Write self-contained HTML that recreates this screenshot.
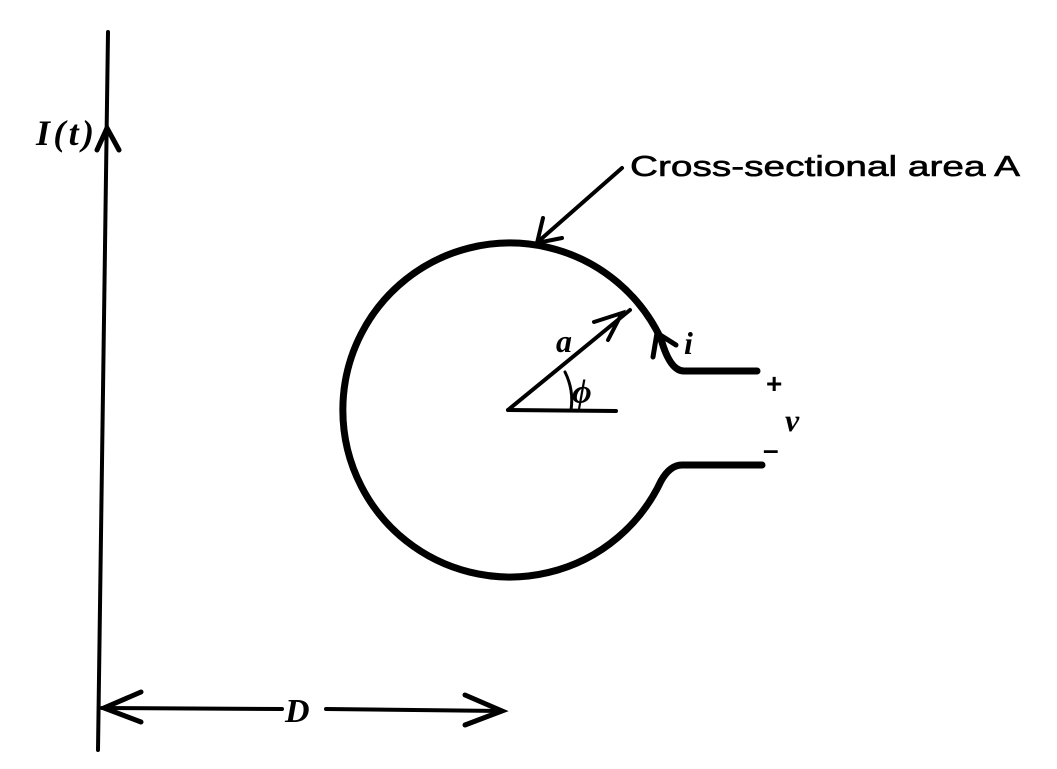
<!DOCTYPE html>
<html><head><style>body{margin:0;background:#fff}</style></head><body>
<svg width="1057" height="769" xmlns="http://www.w3.org/2000/svg" style="display:block">
<g stroke="#000" fill="none" stroke-linecap="round">
<line x1="108" y1="32" x2="98" y2="750" stroke-width="4"/>
<path d="M97 150 L107 128 L119 150" stroke-width="5"/>
<path d="M661 339 A167 167 0 1 0 661 481 Q670 465 682 465 L762 465" stroke-width="7"/>
<path d="M661 339 Q670 371 684 371 L757 371" stroke-width="7"/>
<path d="M653 357 L657 333 L676 345" stroke-width="5"/>
<line x1="508" y1="410" x2="630" y2="310" stroke-width="4"/>
<path d="M594 322 L622 313 L608 340" stroke-width="4"/>
<line x1="508" y1="410" x2="616" y2="411" stroke-width="4"/>
<path d="M565 372 Q574 390 571 410" stroke-width="3"/>
<line x1="622" y1="168" x2="540" y2="240" stroke-width="4"/>
<path d="M543 218 L537 243 L562 238" stroke-width="4"/>
<line x1="102" y1="708" x2="282" y2="709" stroke-width="4"/>
<line x1="326" y1="709" x2="502" y2="711" stroke-width="4"/>
<path d="M141 692 L104 708 L141 722" stroke-width="5"/>
<path d="M465 695 L502 711 L465 725" stroke-width="5"/>
</g>
<g font-family="Liberation Serif, serif" font-style="italic" font-weight="bold" fill="#000">
<text x="36" y="145" font-size="36" textLength="58">I(t)</text>
<text x="556" y="352" font-size="32">a</text>
<text x="572" y="403" font-size="34">ϕ</text>
<text x="684" y="354" font-size="32">i</text>
<text x="785" y="431" font-size="32">v</text>
<text x="285" y="722" font-size="34">D</text>
</g>
<g font-family="Liberation Sans, sans-serif" fill="#000">
<text x="630" y="176" font-size="29" textLength="390" lengthAdjust="spacingAndGlyphs" stroke="#000" stroke-width="0.6">Cross-sectional area A</text>
<text x="766" y="393" font-size="28" font-weight="bold">+</text>
<text x="763" y="459" font-size="28" font-weight="bold">–</text>
</g>
</svg>
</body></html>
